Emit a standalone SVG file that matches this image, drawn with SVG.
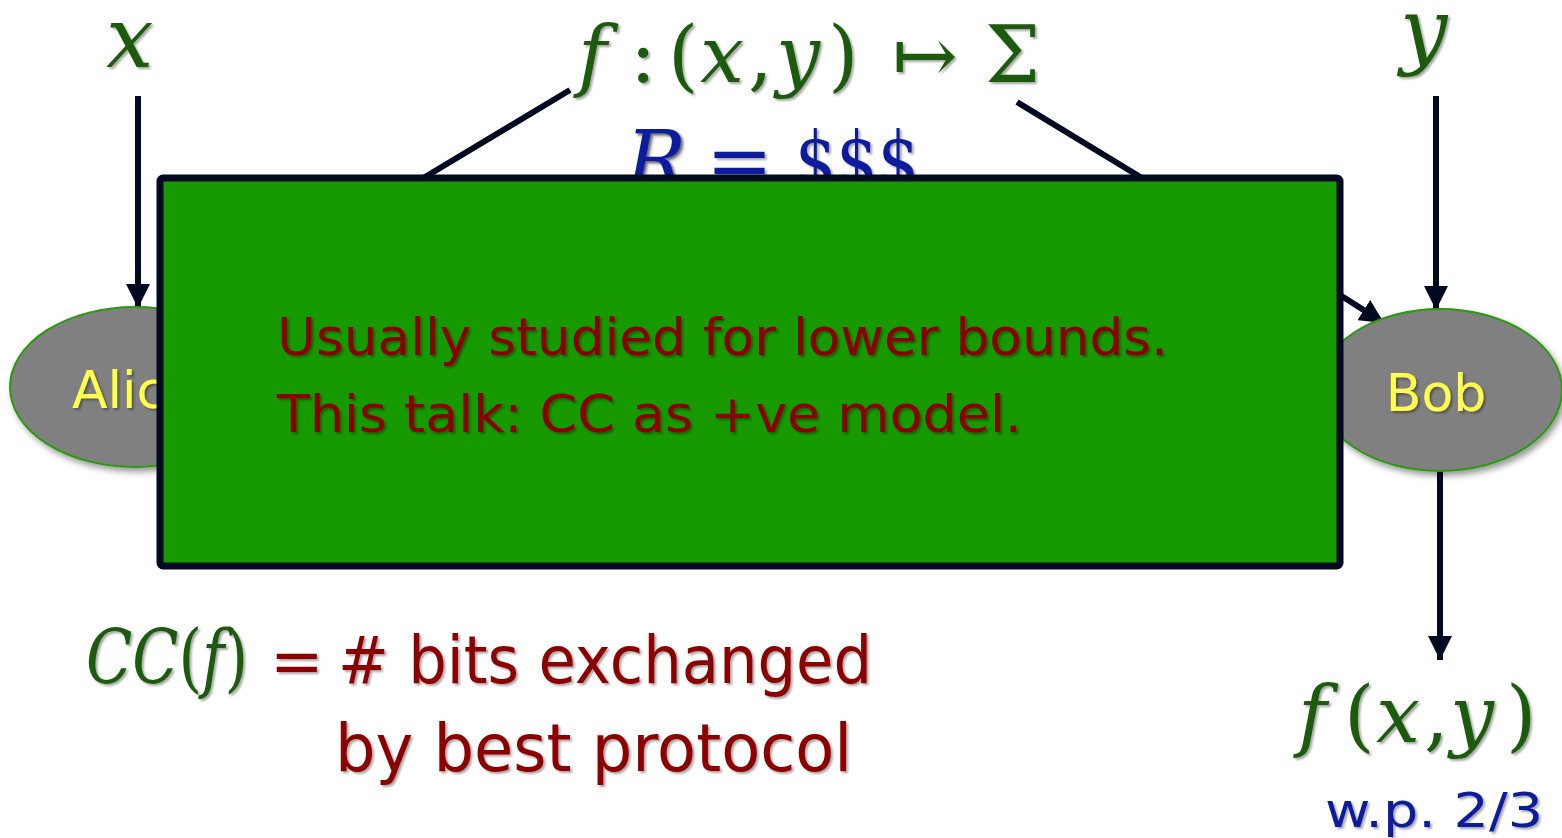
<svg xmlns="http://www.w3.org/2000/svg" width="1562" height="838" viewBox="0 0 1562 838">
  <defs>
    <filter id="shadow" x="-10%" y="-10%" width="130%" height="140%">
      <feDropShadow dx="2" dy="2" stdDeviation="1.2" flood-color="#000" flood-opacity="0.35"/>
    </filter>
    <filter id="nodeShadow" x="-10%" y="-10%" width="130%" height="140%">
      <feDropShadow dx="3" dy="4" stdDeviation="3" flood-color="#000" flood-opacity="0.4"/>
    </filter>
    <marker id="arrow" viewBox="0 0 10 10" refX="10" refY="5" markerWidth="4" markerHeight="4" orient="auto" markerUnits="strokeWidth">
      <path d="M0,0 L10,5 L0,10 z" fill="#020a22"/>
    </marker>
    <style>
      .math { font-family: "DejaVu Serif", "Liberation Serif", serif; font-style: italic; fill: #1d5a0c; filter: url(#shadow); }
      .up { font-style: normal; }
      .sans { font-family: "DejaVu Sans", Verdana, sans-serif; }
      .red { fill: #8b0000; }
      .blue { fill: #0c1f9c; }
      .conn { stroke: #020a22; stroke-width: 6; fill: none; }
      .node { fill: #808080; stroke: #2a9a10; stroke-width: 2; filter: url(#nodeShadow); }
      .label { font-family: "DejaVu Sans", Verdana, sans-serif; font-size: 52px; fill: #ffff4d; filter: url(#shadow); }
    </style>
  </defs>

  <rect width="1562" height="838" fill="#ffffff"/>

  <!-- inputs and function -->
  <text class="math" x="106" y="67" font-size="84">x</text>
  <text class="math" x="1400" y="58" font-size="84">y</text>
  <text class="math" y="82" font-size="78"><tspan x="578">f</tspan><tspan class="up" x="630">:</tspan><tspan class="up" x="668">(</tspan><tspan x="700">x</tspan><tspan class="up" x="748">,</tspan><tspan x="776">y</tspan><tspan class="up" x="828">)</tspan><tspan class="up" x="892">↦</tspan><tspan class="up" x="985">Σ</tspan></text>
  <g filter="url(#shadow)">
    <text class="math blue" x="626" y="188" font-size="80">R</text>
    <text class="blue" x="706" y="188" font-size="80" font-family="DejaVu Serif, serif">=</text>
    <text class="blue" x="795" y="188" font-size="78" font-family="DejaVu Serif, serif" textLength="124" lengthAdjust="spacingAndGlyphs">$$$</text>
  </g>

  <!-- connectors -->
  <g id="connectors">
    <line class="conn" x1="138" y1="96" x2="138" y2="308" marker-end="url(#arrow)"/>
    <line class="conn" x1="1436" y1="96" x2="1436" y2="310" marker-end="url(#arrow)"/>
    <line class="conn" x1="570" y1="90" x2="420" y2="180"/>
    <line class="conn" x1="1017" y1="102" x2="1142" y2="178"/>
    <line class="conn" x1="1340" y1="295" x2="1384" y2="323" marker-end="url(#arrow)"/>
    <line class="conn" x1="1440" y1="471" x2="1440" y2="660" marker-end="url(#arrow)"/>
  </g>

  <!-- parties -->
  <g id="alice">
    <ellipse class="node" cx="135" cy="387" rx="125" ry="80"/>
    <text class="label" x="72" y="408">Alice</text>
  </g>
  <g id="bob">
    <ellipse class="node" cx="1440" cy="390" rx="122" ry="81"/>
    <text class="label" x="1436" y="411" text-anchor="middle">Bob</text>
  </g>

  <!-- overlay note -->
  <g id="note">
    <rect x="160" y="178" width="1180" height="388" rx="3" fill="#179900" stroke="#020a22" stroke-width="7"/>
    <text class="sans red" x="277" y="355" font-size="52" textLength="891" lengthAdjust="spacingAndGlyphs" filter="url(#shadow)">Usually studied for lower bounds.</text>
    <text class="sans red" x="277" y="432" font-size="52" textLength="745" lengthAdjust="spacingAndGlyphs" filter="url(#shadow)">This talk: CC as +ve model.</text>
  </g>

  <!-- definition -->
  <g id="definition">
    <text class="math" x="86" y="683" font-size="74" textLength="162" lengthAdjust="spacingAndGlyphs">CC<tspan class="up">(</tspan>f<tspan class="up">)</tspan></text>
    <text class="sans red" x="270" y="683" font-size="64" filter="url(#shadow)">=</text>
    <text class="sans red" x="338" y="683" font-size="66" textLength="534" lengthAdjust="spacingAndGlyphs" filter="url(#shadow)"># bits exchanged</text>
    <text class="sans red" x="335" y="771" font-size="66" textLength="517" lengthAdjust="spacingAndGlyphs" filter="url(#shadow)">by best protocol</text>
  </g>

  <!-- output -->
  <g id="output">
    <text class="math" y="742" font-size="78"><tspan x="1298">f</tspan><tspan class="up" x="1344">(</tspan><tspan x="1376">x</tspan><tspan class="up" x="1424">,</tspan><tspan x="1450">y</tspan><tspan class="up" x="1506">)</tspan></text>
    <text class="sans blue" x="1325" y="827" font-size="48" textLength="218" lengthAdjust="spacingAndGlyphs" filter="url(#shadow)">w.p. 2/3</text>
  </g>
</svg>
